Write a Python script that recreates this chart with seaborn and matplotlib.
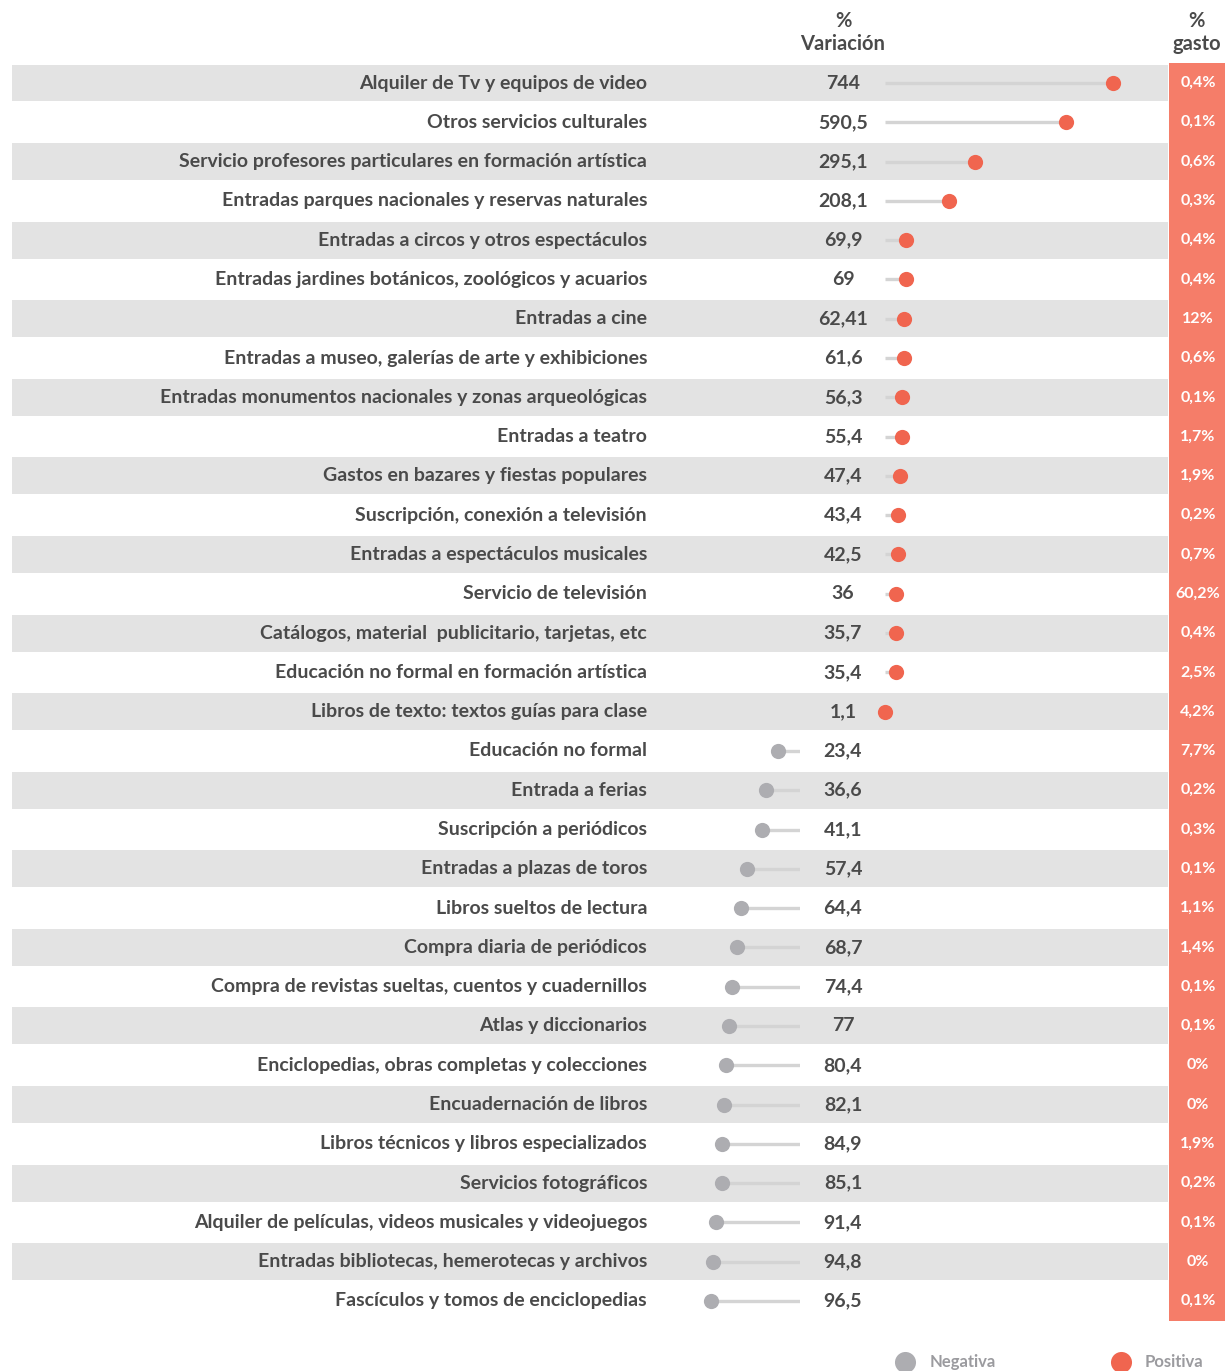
import matplotlib
matplotlib.use("Agg")
import matplotlib.pyplot as plt
import numpy as np
import pandas as pd
import seaborn as sns

# --- data ---
categories = [
    "Alquiler de Tv y equipos de video",
    "Otros servicios culturales",
    "Servicio profesores particulares en formación artística",
    "Entradas parques nacionales y reservas naturales",
    "Entradas a circos y otros espectáculos",
    "Entradas jardines botánicos, zoológicos y acuarios",
    "Entradas a cine",
    "Entradas a museo, galerías de arte y exhibiciones",
    "Entradas monumentos nacionales y zonas arqueológicas",
    "Entradas a teatro",
    "Gastos en bazares y fiestas populares",
    "Suscripción, conexión a televisión",
    "Entradas a espectáculos musicales",
    "Servicio de televisión",
    "Catálogos, material  publicitario, tarjetas, etc",
    "Educación no formal en formación artística",
    "Libros de texto: textos guías para clase",
    "Educación no formal",
    "Entrada a ferias",
    "Suscripción a periódicos",
    "Entradas a plazas de toros",
    "Libros sueltos de lectura",
    "Compra diaria de periódicos",
    "Compra de revistas sueltas, cuentos y cuadernillos",
    "Atlas y diccionarios",
    "Enciclopedias, obras completas y colecciones",
    "Encuadernación de libros",
    "Libros técnicos y libros especializados",
    "Servicios fotográficos",
    "Alquiler de películas, videos musicales y videojuegos",
    "Entradas bibliotecas, hemerotecas y archivos",
    "Fascículos y tomos de enciclopedias",
]
variacion = [
    744, 590.5, 295.1, 208.1, 69.9, 69, 62.41, 61.6, 56.3, 55.4, 47.4, 43.4,
    42.5, 36, 35.7, 35.4, 1.1,
    -23.4, -36.6, -41.1, -57.4, -64.4, -68.7, -74.4, -77, -80.4, -82.1,
    -84.9, -85.1, -91.4, -94.8, -96.5,
]
gasto = [
    0.4, 0.1, 0.6, 0.3, 0.4, 0.4, 12, 0.6, 0.1, 1.7, 1.9, 0.2, 0.7, 60.2,
    0.4, 2.5, 4.2, 7.7, 0.2, 0.3, 0.1, 1.1, 1.4, 0.1, 0.1, 0, 0, 1.9, 0.2,
    0.1, 0, 0.1,
]

df = pd.DataFrame({"cat": categories, "var": variacion, "gasto": gasto})
df["row"] = np.arange(len(df))
pos = df[df["var"] >= 0]
neg = df[df["var"] < 0]


def fmt(v):
    return f"{abs(v):g}".replace(".", ",")


TXT = "#4a4a4a"
RED = "#f0654f"
GREY_DOT = "#adadb1"
LINE = "#d4d4d4"
BAND = "#e3e3e3"
SALMON = "#f57d69"

sns.set_theme(style="white")
plt.rcParams["font.family"] = ["Lato", "DejaVu Sans"]

W, H = 1225, 1371
fig = plt.figure(figsize=(W / 100, H / 100), dpi=100)

# rows: row 0 centre at 83 px, spacing ~39.3 px
y0, dy = 83, 39.29
ytop = -y0 / dy
ybot = (H - y0) / dy

# main axes: x in pixels, y in row units
ax = fig.add_axes([0, 0, 1, 1])
ax.set_xlim(0, W)
ax.set_ylim(ybot, ytop)
ax.axis("off")

n = len(df)
for i in range(0, n, 2):
    ax.fill_between([12, 1168], i - 0.47, i + 0.47, color=BAND, lw=0, zorder=0)
ax.fill_between([1169, W], -0.5, n - 0.5, color=SALMON, lw=0, zorder=0)

fs = 14
for _, r in df.iterrows():
    ax.text(647, r["row"], r["cat"], ha="right", va="center", fontsize=fs,
            color=TXT, fontweight="bold")
    ax.text(843, r["row"], fmt(r["var"]), ha="center", va="center",
            fontsize=fs, color=TXT, fontweight="bold")
    ax.text(1198, r["row"], fmt(r["gasto"]) + "%", ha="center", va="center",
            fontsize=11.5, color="white", fontweight="bold")

# headers
ax.text(843, (21 - y0) / dy, "%", ha="center", va="center",
        fontsize=14.5, color=TXT, fontweight="bold")
ax.text(843, (44 - y0) / dy, "Variación", ha="center", va="center",
        fontsize=14.5, color=TXT, fontweight="bold")
ax.text(1196, (21 - y0) / dy, "%", ha="center", va="center",
        fontsize=14.5, color=TXT, fontweight="bold")
ax.text(1197, (44 - y0) / dy, "gasto", ha="center", va="center",
        fontsize=14.5, color=TXT, fontweight="bold")

# legend at bottom
ly = (1362 - y0) / dy
ax.scatter([905], [ly], s=230, color=GREY_DOT, lw=0, clip_on=False)
ax.text(930, ly, "Negativa", ha="left", va="center", fontsize=12,
        color="#9b9b9f", fontweight="bold")
ax.scatter([1121], [ly], s=230, color=RED, lw=0, clip_on=False)
ax.text(1145, ly, "Positiva", ha="left", va="center", fontsize=12,
        color="#9b9b9f", fontweight="bold")

# positive lollipops: start at 885 px, ~0.306 px per unit
pw = 300
axp = fig.add_axes([885 / W, 0, pw / W, 1])
axp.patch.set_alpha(0)
axp.hlines(pos["row"], 0, pos["var"], color=LINE, lw=2.4, zorder=1)
sns.scatterplot(data=pos, x="var", y="row", ax=axp, color=RED, s=120,
                linewidth=0, zorder=2, legend=False, clip_on=False)
axp.set_xlim(0, pw / 0.306)
axp.set_ylim(ybot, ytop)
axp.axis("off")

# negative lollipops: start at 800 px going left, ~0.92 px per unit
nw = 130
axn = fig.add_axes([(800 - nw) / W, 0, nw / W, 1])
axn.patch.set_alpha(0)
axn.hlines(neg["row"], 0, -neg["var"], color=LINE, lw=2.4, zorder=1)
sns.scatterplot(x=-neg["var"], y=neg["row"], ax=axn, color=GREY_DOT, s=120,
                linewidth=0, zorder=2, legend=False, clip_on=False)
axn.set_xlim(nw / 0.92, 0)
axn.set_ylim(ybot, ytop)
axn.axis("off")

fig.savefig("out.png", dpi=100)
